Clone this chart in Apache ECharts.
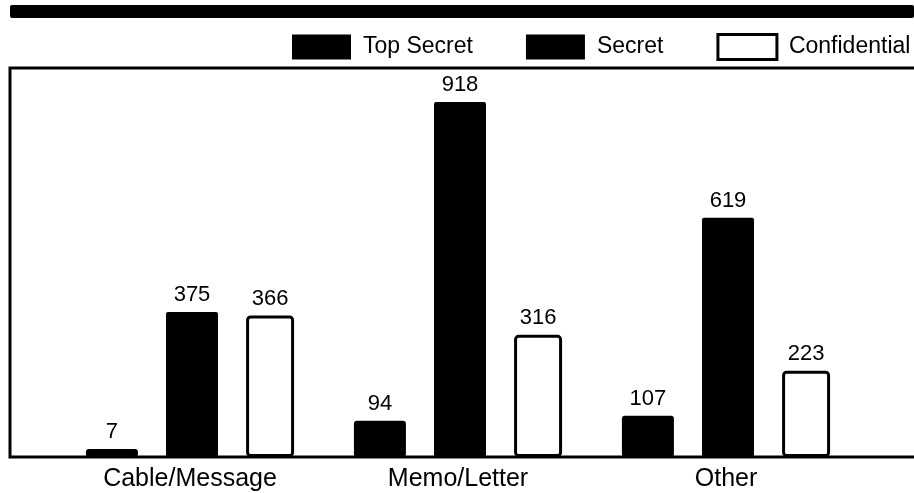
<!DOCTYPE html>
<html><head><meta charset="utf-8">
<script src="https://cdn.jsdelivr.net/npm/echarts@6/dist/echarts.min.js"></script>
<style>html,body{margin:0;padding:0;background:#fff}#c{width:914px;height:493px}</style>
</head><body><div id="c"></div>
<script>
const categories = ['Cable/Message', 'Memo/Letter', 'Other'];
const topSecret = [7, 94, 107];
const secret = [375, 918, 619];
const confidential = [366, 316, 223];

const font = 'Liberation Sans, Arial, Helvetica, sans-serif';
const chart = echarts.init(document.getElementById('c'));
const labelStyle = {show: true, position: 'top', distance: 6, color: '#000', fontSize: 22, fontFamily: font};
chart.setOption({
  animation: false,
  backgroundColor: '#fff',
  graphic: [
    {type: 'rect', shape: {x: 10, y: 5, width: 904, height: 13, r: 2}, style: {fill: '#000'}},
    {type: 'polyline', shape: {points: [[930, 68], [10, 68], [10, 457], [930, 457]]}, style: {stroke: '#000', lineWidth: 3, fill: null}}
  ],
  legend: {
    left: 292, top: 33, width: 700, padding: 0, itemWidth: 59, itemHeight: 25, itemGap: 53, icon: 'rect',
    textStyle: {color: '#000', fontSize: 23, fontFamily: font, padding: [0, 0, 0, 7]},
    data: ['Top Secret', 'Secret', {name: 'Confidential', itemStyle: {borderWidth: 3, borderColor: '#000'}}]
  },
  grid: {left: 56, width: 804, top: 68, bottom: 36},
  xAxis: {type: 'category', data: categories, axisLine: {show: false}, axisTick: {show: false},
     axisLabel: {margin: 10, color: '#000', fontSize: 25, fontFamily: font}},
  yAxis: {type: 'value', min: 0, max: 1006, show: false},
  series: [
    {name: 'Top Secret', type: 'bar', data: topSecret, barWidth: 52, barGap: '54%', barMinHeight: 8,
     itemStyle: {color: '#000', borderRadius: 3}, label: labelStyle},
    {name: 'Secret', type: 'bar', data: secret, barWidth: 52, barGap: '54%',
     itemStyle: {color: '#000', borderRadius: 2}, label: labelStyle},
    {name: 'Confidential', type: 'bar', data: confidential, barWidth: 48, barGap: '54%',
     itemStyle: {color: '#fff', borderColor: '#000', borderWidth: 3, borderRadius: 3}, label: labelStyle}
  ]
});
</script></body></html>
